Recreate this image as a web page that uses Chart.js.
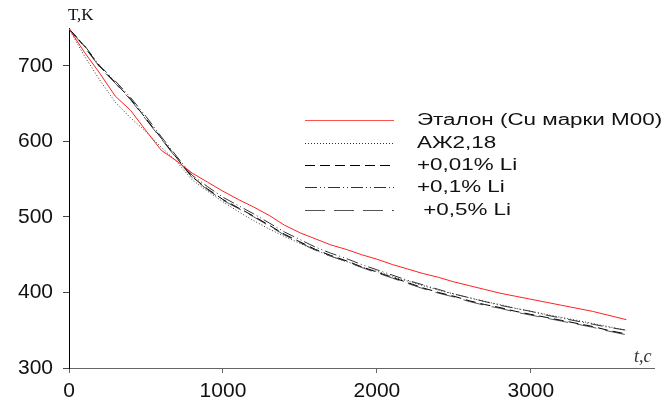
<!DOCTYPE html>
<html>
<head>
<meta charset="utf-8">
<script src="https://cdn.jsdelivr.net/npm/chart.js@4.4.1/dist/chart.umd.min.js"></script>
<style>
  html, body { margin: 0; padding: 0; background: #fff; }
  #wrap { width: 669px; height: 406px; position: relative; }
</style>
</head>
<body>
<div id="wrap"><canvas id="cooling"></canvas></div>
<script>
// time, s
const times = [0, 100, 200, 300, 400, 500, 600, 700, 800, 900, 1000, 1100, 1200,
  1300, 1400, 1500, 1600, 1700, 1800, 1900, 2000, 2100, 2200, 2300, 2400, 2500,
  2600, 2700, 2800, 2900, 3000, 3100, 3200, 3300, 3400, 3500, 3620];

// temperature, K
const etalon = [749, 718, 690, 660, 641, 614, 588, 574, 558, 546, 534, 523, 513,
  502, 489, 479, 471, 463, 457, 450, 444, 437, 431, 425, 420, 414,
  409, 404, 399, 395, 391, 387, 383, 379, 375, 370, 364];
const azh218 = [749, 713, 681, 652, 631, 613, 592, 573, 549, 534, 520, 507, 495,
  484, 474, 465, 456, 448, 441, 434, 428, 421, 415, 409, 403, 398,
  393, 388, 384, 379, 375, 371, 367, 363, 359, 355, 350];
const li001 = [749, 726, 699, 678, 656, 630, 604, 578, 553, 537, 523, 512, 501,
  489, 477, 467, 457, 449, 442, 434, 427, 420, 413, 406, 400, 395,
  389, 384, 380, 375, 371, 367, 363, 359, 355, 350, 345];
const li01 = [749, 727, 700, 680, 658, 633, 606, 580, 555, 540, 526, 515, 504,
  492, 480, 470, 460, 452, 445, 437, 430, 423, 416, 410, 404, 398,
  393, 388, 383, 379, 375, 370, 366, 362, 358, 354, 350];
const li05 = [749, 725, 698, 677, 655, 629, 603, 577, 552, 536, 522, 511, 500,
  488, 476, 466, 456, 448, 441, 433, 426, 419, 412, 405, 399, 394,
  388, 383, 379, 374, 370, 366, 362, 358, 354, 349, 344];

const xTicks = [0, 1000, 2000, 3000];
const yTicks = [300, 400, 500, 600, 700];

const seriesNames = ["Эталон (Cu марки М00)", "АЖ2,18", "+0,01% Li", "+0,1% Li", " +0,5% Li"];

const pts = (arr) => arr.map((v, i) => ({ x: times[i], y: v }));

const sansFont = "'Liberation Sans', Arial, sans-serif";
const serifFont = "'Liberation Serif', 'Times New Roman', serif";

// legend box + axis names drawn by hand
const decorations = {
  id: "decorations",
  afterDraw(chart) {
    const ctx = chart.ctx;
    ctx.save();
    // axis titles
    ctx.fillStyle = "#111";
    ctx.font = "17px " + serifFont;
    ctx.textBaseline = "alphabetic";
    ctx.fillText("T,K", 68, 20);
    ctx.fillStyle = "#333";
    ctx.font = "italic 18px " + serifFont;
    ctx.fillText("t,c", 634, 362);

    // legend
    const rowsY = [120, 143, 165, 187, 210];
    chart.data.datasets.forEach((ds, i) => {
      const y = rowsY[i];
      ctx.strokeStyle = i === 0 ? "#ff5050" : ds.borderColor;
      ctx.lineWidth = 1;
      ctx.setLineDash(ds.borderDash || []);
      ctx.beginPath();
      ctx.moveTo(305, y + 0.5);
      ctx.lineTo(394, y + 0.5);
      ctx.stroke();
      ctx.setLineDash([]);
      ctx.save();
      ctx.fillStyle = "#111";
      ctx.font = "16px " + sansFont;
      ctx.textBaseline = "middle";
      ctx.translate(417, y + 1);
      ctx.scale(1.4, 1);
      ctx.fillText(ds.label, 0, 0);
      ctx.restore();
    });
    ctx.restore();
  }
};

new Chart(document.getElementById("cooling"), {
  type: "line",
  data: {
    datasets: [
      {
        label: seriesNames[0],
        data: pts(etalon),
        borderColor: "#ff2020",
        borderWidth: 1,
        pointRadius: 0,
      },
      {
        label: seriesNames[1],
        data: pts(azh218),
        borderColor: "#333",
        borderWidth: 1,
        borderDash: [1, 2],
        pointRadius: 0,
      },
      {
        label: seriesNames[2],
        data: pts(li001),
        borderColor: "#000",
        borderWidth: 1,
        borderDash: [10, 5],
        pointRadius: 0,
      },
      {
        label: seriesNames[3],
        data: pts(li01),
        borderColor: "#333",
        borderWidth: 1,
        borderDash: [12, 3, 1, 3, 1, 3],
        pointRadius: 0,
      },
      {
        label: seriesNames[4],
        data: pts(li05),
        borderColor: "#555",
        borderWidth: 1,
        borderDash: [20, 9],
        pointRadius: 0,
      },
    ],
  },
  options: {
    responsive: true,
    maintainAspectRatio: false,
    animation: false,
    layout: { padding: { top: 28, right: 15, left: 0, bottom: 0 } },
    plugins: {
      legend: { display: false },
      tooltip: { enabled: false },
    },
    scales: {
      x: {
        type: "linear",
        min: 0,
        max: 3800,
        afterBuildTicks: (scale) => { scale.ticks = xTicks.map((v) => ({ value: v })); },
        afterFit: (scale) => { scale.height = 38; },
        border: { color: "#666", width: 1 },
        grid: { drawOnChartArea: false, tickLength: 5, color: "#666" },
        ticks: {
          color: "#111",
          padding: 6,
          maxRotation: 0,
          font: { family: sansFont, size: 21 },
          callback: (v) => String(v),
        },
      },
      y: {
        type: "linear",
        min: 300,
        max: 750,
        afterBuildTicks: (scale) => { scale.ticks = yTicks.map((v) => ({ value: v })); },
        afterFit: (scale) => { scale.width = 69; },
        border: { color: "#000", width: 1 },
        grid: { drawOnChartArea: false, tickLength: 6, color: "#444" },
        ticks: {
          color: "#111",
          padding: 10,
          font: { family: sansFont, size: 21 },
          callback: (v) => String(v),
        },
      },
    },
  },
  plugins: [decorations],
});
</script>
</body>
</html>
